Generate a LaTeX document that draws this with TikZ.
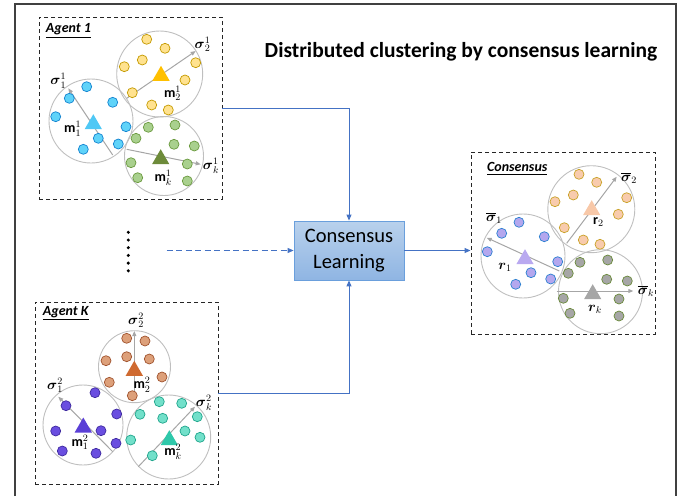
\RequirePackage{fix-cm}
\documentclass[tikz,border=0pt]{standalone}
\usepackage{amsmath}
\usepackage{fontspec}
\setmainfont{Carlito}
\usetikzlibrary{arrows.meta,shapes.geometric}

\definecolor{framegray}{HTML}{404040}
\definecolor{flowblue}{HTML}{4472C4}
\definecolor{learnedge}{HTML}{6A9FDC}
\definecolor{learntop}{HTML}{B9D1EC}
\definecolor{learnbot}{HTML}{8FB5E3}
\definecolor{ringgray}{HTML}{BFBFBF}
\definecolor{siggray}{HTML}{A6A6A6}
\definecolor{cyanfill}{HTML}{5FD3F9}
\definecolor{cyanedge}{HTML}{1383D0}
\definecolor{cyantri}{HTML}{4FC8F5}
\definecolor{yelfill}{HTML}{FFE28F}
\definecolor{yeledge}{HTML}{C49A00}
\definecolor{yeltri}{HTML}{FFC000}
\definecolor{grnfill}{HTML}{A9D08E}
\definecolor{grnedge}{HTML}{6B9A3F}
\definecolor{grntri}{HTML}{6D8B3A}
\definecolor{brnfill}{HTML}{DDA07A}
\definecolor{brnedge}{HTML}{A0522D}
\definecolor{brntri}{HTML}{CF6A30}
\definecolor{purfill}{HTML}{6A4EE0}
\definecolor{puredge}{HTML}{3F2AA0}
\definecolor{purtri}{HTML}{5A3FD6}
\definecolor{tealfill}{HTML}{72E0CA}
\definecolor{tealedge}{HTML}{20A58C}
\definecolor{tealtri}{HTML}{2EC8AA}
\definecolor{lavfill}{HTML}{B4A7EE}
\definecolor{lavedge}{HTML}{2B80D0}
\definecolor{lavtri}{HTML}{B9A9F0}
\definecolor{pchfill}{HTML}{F8CBAD}
\definecolor{pchedge}{HTML}{C9A227}
\definecolor{pchtri}{HTML}{F8C8A8}
\definecolor{gryfill}{HTML}{A6A6A6}
\definecolor{gryedge}{HTML}{6A8A3A}
\definecolor{grytri}{HTML}{A6A6A6}

\tikzset{
  agentbox/.style={draw=black!85, line width=0.9pt, dash pattern=on 4pt off 3pt,
    minimum width=183pt, minimum height=182pt, inner sep=0pt},
  learnbox/.style={draw=learnedge, line width=0.8pt, top color=learntop, bottom color=learnbot,
    minimum width=110pt, minimum height=59pt, inner sep=0pt, align=center,
    font=\fontsize{20.5}{26}\selectfont},
  flow/.style={draw=flowblue, line width=0.9pt, -{Triangle[length=6pt,width=5pt]}},
  ring/.style={draw=ringgray, line width=0.9pt},
  sig/.style={draw=siggray, line width=1pt, -{Triangle[length=5pt,width=4pt]}},
  tri/.style={regular polygon, regular polygon sides=3, inner sep=0pt, minimum size=20pt},
  lab/.style={inner sep=0pt, font=\fontsize{14}{16}\selectfont},
  boxlab/.style={anchor=base west, inner sep=0pt, font=\fontsize{14}{16}\selectfont\bfseries\itshape}
}

\begin{document}
\begin{tikzpicture}[x=1pt,y=-1pt]
\useasboundingbox (0,0) rectangle (689,496);
\draw[framegray, line width=1.5pt] (15,496) -- (15,4) -- (676,4) -- (676,496);

\node[anchor=base, inner sep=0pt, font=\fontsize{21.5}{24}\selectfont\bfseries] (title) at (461,57) {Distributed clustering by consensus learning};

\node[agentbox] (agent1) at (130.5,108) {};
\node[agentbox] (agentK) at (126.5,393) {};
\node[agentbox, minimum width=184pt] (cons) at (563,243) {};
\node[learnbox] (learn) at (349,250.5) {Consensus\\Learning};
\node[boxlab] (a1lab) at (45.7,32.7) {\underline{Agent 1}};
\node[boxlab] (aKlab) at (42.7,315) {\underline{Agent K}};
\node[boxlab] (conslab) at (487,171.7) {\underline{Consensus}};

\coordinate (dstart) at (166.7,250.5);
\draw[flow] (agent1.east) -| (learn.north);
\draw[flow] (agentK.east) -| (learn.south);
\draw[flow, dash pattern=on 6pt off 3.5pt] (dstart) -- (learn.west);
\draw[flow] (learn.east) -- (learn.east -| cons.west);
\foreach \y in {232.3,240,247.7,255.4,263.1,270.8}
  \fill (128.3,\y) circle (1.7pt);

\draw[ring] (91,121) circle (42pt);
\draw[ring] (159.7,74) circle (43pt);
\draw[ring] (164,156) circle (39.5pt);
\draw[sig] (112.7,155) -- (68.3,88.3);
\draw[sig] (126.7,98.3) -- (195.7,51);
\draw[sig] (126.7,149.3) -- (200.7,164.3);
\foreach \x/\y in {86.7/86.7,69.3/98.3,112.7/102.3,55.7/116.7,126/126.7,98.3/138.3,118.3/144,83.3/149.3}
  \filldraw[fill=cyanfill, draw=cyanedge, line width=0.7pt] (\x,\y) circle (5pt);
\foreach \x/\y in {146.7/39.3,165/48.3,142.3/60,124.3/66.7,195.7/62.7,185/80,132.3/92.7,151.7/105,168.3/110}
  \filldraw[fill=yelfill, draw=yeledge, line width=0.7pt] (\x,\y) circle (5pt);
\foreach \x/\y in {148.3/127.3,175/125,136/138.3,174/144.3,194.3/146,131/162.7,187.3/164,137.7/177.7,187.3/181}
  \filldraw[fill=grnfill, draw=grnedge, line width=0.7pt] (\x,\y) circle (5pt);
\node[tri, fill=cyantri] (m11) at (93.3,124.2) {};
\node[tri, fill=yeltri] (m21) at (161,75.8) {};
\node[tri, fill=grntri] (mk1) at (160.7,159.2) {};
\node[lab] (s11l) at (58.3,80.7) {$\boldsymbol{\sigma}_1^1$};
\node[lab] (m11l) at (72.7,129) {$\mathbf{m}_1^1$};
\node[lab] (s21l) at (202.5,44.3) {$\boldsymbol{\sigma}_2^1$};
\node[lab] (m21l) at (172.5,93.3) {$\mathbf{m}_2^1$};
\node[lab] (sk1l) at (211,166) {$\boldsymbol{\sigma}_k^1$};
\node[lab] (mk1l) at (163.3,177.5) {$\mathbf{m}_k^1$};

\draw[ring] (134.5,366.7) circle (36pt);
\draw[ring] (83,425) circle (40pt);
\draw[ring] (168.7,437) circle (42pt);
\draw[sig] (134.3,393.3) -- (134.3,331);
\draw[sig] (112.7,451.7) -- (58.3,396.7);
\draw[sig] (138.3,466.7) -- (195,406.7);
\foreach \x/\y in {126.7/338.3,145/341,106/360.7,126.7/356.7,149.3/359,109.3/382.3,162/377,132.3/395.7}
  \filldraw[fill=brnfill, draw=brnedge, line width=0.7pt] (\x,\y) circle (5pt);
\foreach \x/\y in {95/392.7,66/405.7,116.7/414,55.7/431,101/430.7,116/443.3,62.3/451,96/453.3}
  \filldraw[fill=purfill, draw=puredge, line width=0.7pt] (\x,\y) circle (5pt);
\foreach \x/\y in {159.3/401.7,181.7/403.3,140/414.3,162.7/418.3,197.3/416.7,185/431,200/437.3,130.7/440,152.3/455.7}
  \filldraw[fill=tealfill, draw=tealedge, line width=0.7pt] (\x,\y) circle (5pt);
\node[tri, fill=brntri] (m22) at (134.3,370.8) {};
\node[tri, fill=purtri] (m12) at (83.3,427.5) {};
\node[tri, fill=tealtri] (mk2) at (169.3,440.2) {};
\node[lab] (s22l) at (136,320.5) {$\boldsymbol{\sigma}_2^2$};
\node[lab] (m22l) at (142,385) {$\mathbf{m}_2^2$};
\node[lab] (s12l) at (55,385.5) {$\boldsymbol{\sigma}_1^2$};
\node[lab] (m12l) at (80,442.5) {$\mathbf{m}_1^2$};
\node[lab] (sk2l) at (204,402.5) {$\boldsymbol{\sigma}_k^2$};
\node[lab] (mk2l) at (173,452) {$\mathbf{m}_k^2$};

\draw[ring] (523,256) circle (42pt);
\draw[ring] (591.3,209.2) circle (43.5pt);
\draw[ring] (600.5,291.7) circle (42pt);
\draw[sig] (559.3,271) -- (486.7,237.7);
\draw[sig] (566.7,243.3) -- (616.7,176.7);
\draw[sig] (556.7,291) -- (633.3,291);
\foreach \x/\y in {519/222.3,501.7/233.3,544.3/236.7,487.3/251.7,557.7/261.7,531/272.7,550.7/279,515.7/284.3}
  \filldraw[fill=lavfill, draw=lavedge, line width=0.7pt] (\x,\y) circle (5pt);
\foreach \x/\y in {579/174.3,596.7/182.3,573.3/195,555/201.7,626.7/197.7,618.3/214.3,564.3/227.7,583.3/240,600/244.3}
  \filldraw[fill=pchfill, draw=pchedge, line width=0.7pt] (\x,\y) circle (5pt);
\foreach \x/\y in {580/262.3,607.7/260,568.3/273.3,606.7/279.3,627.3/281,563.3/298.3,619/299,570/313.3,619/316}
  \filldraw[fill=gryfill, draw=gryedge, line width=0.7pt] (\x,\y) circle (5pt);
\node[tri, fill=lavtri] (r1) at (525,259.2) {};
\node[tri, fill=pchtri] (r2) at (591.7,210.2) {};
\node[tri, fill=grytri] (rk) at (592.7,294.2) {};
\node[lab] (sb1l) at (494,218) {$\overline{\boldsymbol{\sigma}}_1$};
\node[lab] (r1l) at (505,267) {$\boldsymbol{r}_1$};
\node[lab] (sb2l) at (629,178.3) {$\overline{\boldsymbol{\sigma}}_2$};
\node[lab] (r2l) at (598.3,222) {$\mathbf{r}_2$};
\node[lab] (sbkl) at (646,291) {$\overline{\boldsymbol{\sigma}}_k$};
\node[lab] (rkl) at (595,309) {$\boldsymbol{r}_k$};
\end{tikzpicture}
\end{document}
